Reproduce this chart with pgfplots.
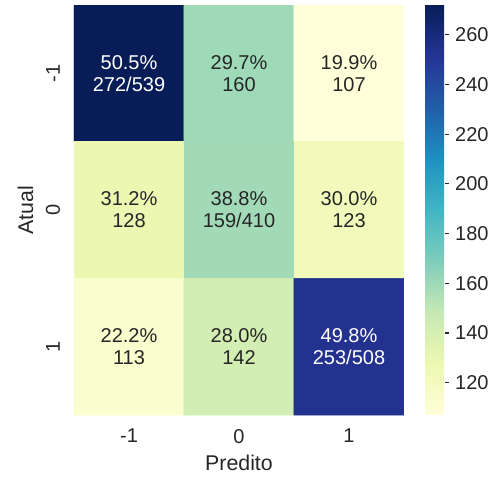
\documentclass[border=0pt]{standalone}
\usepackage{pgfplots}
\pgfplotsset{compat=1.18}
\usepackage{fontspec}
\setmainfont{Liberation Sans}
\definecolor{txt}{HTML}{262626}
\begin{document}
\begin{tikzpicture}
\begin{axis}[
  name=cm,
  scale only axis,
  width=247.5pt, height=307.5pt,
  xmin=-0.5, xmax=2.5, ymin=-0.5, ymax=2.5,
  y dir=reverse,
  axis line style={draw=none},
  xtick={0,1,2}, xticklabels={-1,0,1},
  ytick={0,1,2}, yticklabels={-1,0,1},
  major tick length=0pt,
  tick label style={font=\fontsize{15}{18}\selectfont, text=txt},
  xticklabel style={yshift=-7pt},
  yticklabel style={rotate=90, anchor=south, yshift=7pt},
  xlabel={Predito}, ylabel={Atual},
  label style={font=\fontsize{16}{19}\selectfont, text=txt},
  xlabel style={yshift=-2pt},
  ylabel style={yshift=2.5pt},
  colormap={ylgnbu}{rgb255=(255,255,217) rgb255=(237,248,177) rgb255=(199,233,180) rgb255=(127,205,187) rgb255=(65,182,196) rgb255=(29,145,192) rgb255=(34,94,168) rgb255=(37,52,148) rgb255=(8,29,88)},
  point meta min=107, point meta max=272,
  colorbar,
  colorbar shift/.style={xshift=15.75pt},
  colorbar style={
    width=15pt,
    ytick={120,140,...,260},
    ytick pos=right,
    axis line style={draw=none},
    major tick length=3pt,
    tick align=outside,
    tick style={draw=txt, line width=0.8pt},
    /pgf/number format/assume math mode=true,
    yticklabel style={font=\fontsize{15}{18}\selectfont, text=txt, xshift=1pt},
  },
]
% cell counts
\addplot[matrix plot*, point meta=explicit, mesh/cols=3] table[meta=c] {
x y c
0 0 272
1 0 160
2 0 107
0 1 128
1 1 159
2 1 123
0 2 113
1 2 142
2 2 253
};
% annotations on light cells
\addplot[draw=none, mark=none, point meta=explicit symbolic,
  nodes near coords, nodes near coords align=center,
  every node near coord/.append style={align=center, text=txt,
    font=\fontsize{15}{16.5}\selectfont}] coordinates {
  (1,0) [{29.7\%\\160}]
  (2,0) [{19.9\%\\107}]
  (0,1) [{31.2\%\\128}]
  (1,1) [{38.8\%\\159/410}]
  (2,1) [{30.0\%\\123}]
  (0,2) [{22.2\%\\113}]
  (1,2) [{28.0\%\\142}]
};
% annotations on dark cells
\addplot[draw=none, mark=none, point meta=explicit symbolic,
  nodes near coords, nodes near coords align=center,
  every node near coord/.append style={align=center, text=white,
    font=\fontsize{15}{16.5}\selectfont}] coordinates {
  (0,0) [{50.5\%\\272/539}]
  (2,2) [{49.8\%\\253/508}]
};
\end{axis}
\path (cm.south west) ++(-55.5pt,-47.25pt) rectangle ++(378pt,358.5pt);
\end{tikzpicture}
\end{document}
